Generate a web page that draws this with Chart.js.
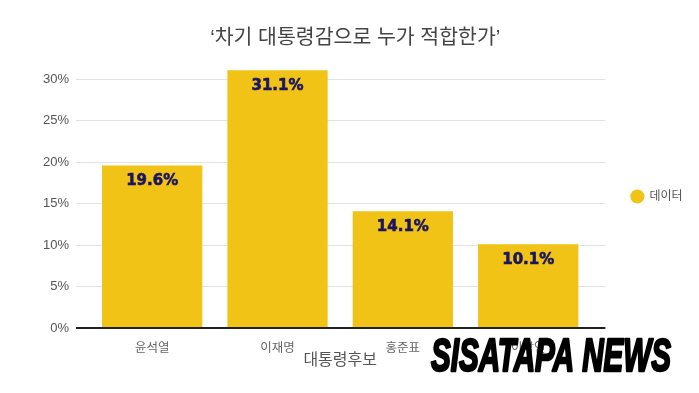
<!DOCTYPE html>
<html lang="ko">
<head>
<meta charset="utf-8">
<script src="https://cdn.jsdelivr.net/npm/chart.js"></script>
<style>
  html, body { margin: 0; padding: 0; background: #fff; }
  #wrap { width: 699px; height: 393px; }
</style>
</head>
<body>
<div id="wrap"><canvas id="pollChart" width="699" height="393"></canvas></div>
<script>
// ── DATA ──
const CATEGORIES   = ['윤석열', '이재명', '홍준표', '이낙연'];
const VALUES       = [19.6, 31.1, 14.1, 10.1];
const Y_TICKS      = [0, 5, 10, 15, 20, 25, 30];
const SERIES_LABEL = '데이터';
const TITLE_TEXT   = '‘차기 대통령감으로 누가 적합한가’';
const X_TITLE      = '대통령후보';
const WATERMARK    = 'SISATAPA NEWS';

const BAR_COLOR  = '#f0c316';
const GRID_COLOR = '#e2e2e2';
const BASE_COLOR = '#222';
const FONT_FAMILY = "'Liberation Sans', 'Noto Sans CJK KR', sans-serif";

Chart.defaults.font.family = FONT_FAMILY;
Chart.defaults.color       = '#555';
Chart.defaults.animation   = false;

// grid colour: dark baseline at 0, light elsewhere
const gridColor = ctx => (ctx.tick && ctx.tick.value === 0) ? BASE_COLOR : GRID_COLOR;
const gridWidth = ctx => (ctx.tick && ctx.tick.value === 0) ? 2 : 1;
const keepTicks = axis => { axis.ticks = axis.ticks.filter(t => Y_TICKS.includes(t.value)); };

// ── VALUE LABELS INSIDE BARS ──
const valueLabels = {
  id: 'valueLabels',
  afterDatasetsDraw(chart) {
    const { ctx } = chart;
    const meta = chart.getDatasetMeta(0);
    ctx.save();
    ctx.font = "bold 15px 'DejaVu Sans', sans-serif";
    ctx.fillStyle = '#1b1662';
    ctx.strokeStyle = '#1b1662';
    ctx.lineWidth = 0.6;
    ctx.textAlign = 'center';
    ctx.textBaseline = 'middle';
    meta.data.forEach((bar, i) => {
      const txt = VALUES[i].toFixed(1) + '%';
      ctx.fillText(txt, bar.x, bar.y + 16);
      ctx.strokeText(txt, bar.x, bar.y + 16);
    });
    ctx.restore();
  }
};

// ── WATERMARK ──
const watermark = {
  id: 'watermark',
  afterDraw(chart) {
    const { ctx } = chart;
    ctx.save();
    ctx.font = "italic bold 46px 'Liberation Sans Narrow', 'Liberation Sans', sans-serif";
    const w = ctx.measureText(WATERMARK).width;
    ctx.translate(431, 371);
    ctx.scale(240 / w, 1);
    ctx.fillStyle = '#000';
    ctx.strokeStyle = '#000';
    ctx.lineWidth = 2.5;
    ctx.lineJoin = 'round';
    ctx.textBaseline = 'alphabetic';
    ctx.fillText(WATERMARK, 0, 0);
    ctx.strokeText(WATERMARK, 0, 0);
    ctx.restore();
  }
};

// ── BAR CHART ──
new Chart(document.getElementById('pollChart'), {
  type: 'bar',
  data: {
    labels: CATEGORIES,
    datasets: [{
      label: SERIES_LABEL,
      data: VALUES,
      backgroundColor: BAR_COLOR,
      borderWidth: 0,
      categoryPercentage: 0.8,
      barPercentage: 1.0,
    }]
  },
  options: {
    responsive: false,
    layout: { padding: { left: 18, right: 6.5, top: 0, bottom: 0 } },
    scales: {
      x: {
        grid: { display: false },
        border: { display: true, color: BASE_COLOR, width: 2 },
        ticks: { padding: 5, color: '#666', font: { size: 12.5 } },
        title: {
          display: true, text: X_TITLE, color: '#555',
          font: { size: 16 }, padding: { top: 0, bottom: 22.4 }
        },
        afterFit: s => { s.height = 65; },
      },
      y: {
        min: 0, max: 32,
        afterBuildTicks: keepTicks,
        border: { display: false },
        grid: { color: gridColor, lineWidth: gridWidth, tickLength: 13.5 },
        ticks: { stepSize: 5, padding: 7, color: '#555', font: { size: 13 }, callback: v => v + '%' },
        afterFit: s => { s.width = 71.5; },
      },
      y2: {
        position: 'right',
        min: 0, max: 32,
        afterBuildTicks: keepTicks,
        border: { display: false },
        grid: { drawOnChartArea: false, color: gridColor, lineWidth: gridWidth, tickLength: 14.5 },
        ticks: { stepSize: 5, display: false },
        afterFit: s => { s.width = 14.5; },
      }
    },
    plugins: {
      title: {
        display: true, text: TITLE_TEXT, color: '#444',
        font: { size: 20.5, weight: 'normal' },
        padding: { top: 26, bottom: 12.2 }
      },
      legend: {
        position: 'right',
        maxWidth: 92,
        labels: {
          usePointStyle: true, pointStyle: 'circle',
          boxWidth: 14, boxHeight: 10, padding: 26,
          color: '#555', font: { size: 12 }
        }
      },
      tooltip: { enabled: false }
    }
  },
  plugins: [valueLabels, watermark]
});
</script>
</body>
</html>
